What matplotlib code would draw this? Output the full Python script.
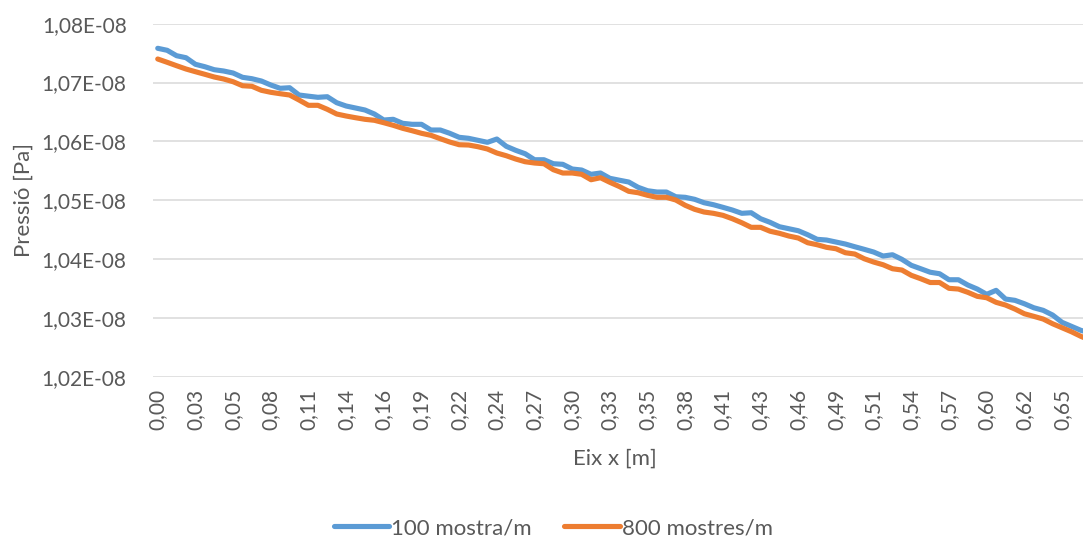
import numpy as np
import matplotlib
matplotlib.use("Agg")
import matplotlib.pyplot as plt
from matplotlib.ticker import FuncFormatter

plt.rcParams['font.family'] = ['Lato', 'DejaVu Sans']

# pressure along x, in units of 1e-8 Pa
pres_100 = [
    1.07582, 1.07548, 1.07456, 1.07422, 1.07310, 1.07269, 1.07218, 1.07196, 1.07162, 1.07089,
    1.07065, 1.07026, 1.06958, 1.06902, 1.06912, 1.06788, 1.06768, 1.06749, 1.06759, 1.06657,
    1.06601, 1.06567, 1.06533, 1.06465, 1.06363, 1.06375, 1.06307, 1.06290, 1.06290, 1.06193,
    1.06193, 1.06137, 1.06069, 1.06052, 1.06018, 1.05984, 1.06040, 1.05916, 1.05848, 1.05790,
    1.05688, 1.05688, 1.05620, 1.05610, 1.05530, 1.05513, 1.05440, 1.05462, 1.05372, 1.05340,
    1.05309, 1.05219, 1.05161, 1.05139, 1.05139, 1.05059, 1.05049, 1.05015, 1.04957, 1.04923,
    1.04879, 1.04833, 1.04777, 1.04787, 1.04685, 1.04624, 1.04549, 1.04515, 1.04481, 1.04413,
    1.04335, 1.04323, 1.04289, 1.04255, 1.04209, 1.04165, 1.04119, 1.04051, 1.04073, 1.03995,
    1.03893, 1.03835, 1.03776, 1.03750, 1.03648, 1.03648, 1.03558, 1.03490, 1.03400, 1.03468,
    1.03320, 1.03298, 1.03240, 1.03172, 1.03128, 1.03048, 1.02924, 1.02856, 1.02788, 1.02742,
]
pres_800 = [
    1.07400, 1.07344, 1.07286, 1.07230, 1.07184, 1.07140, 1.07094, 1.07060, 1.07014, 1.06946,
    1.06936, 1.06868, 1.06834, 1.06810, 1.06788, 1.06703, 1.06613, 1.06613, 1.06545, 1.06465,
    1.06431, 1.06402, 1.06375, 1.06358, 1.06317, 1.06273, 1.06222, 1.06181, 1.06137, 1.06103,
    1.06045, 1.05989, 1.05943, 1.05938, 1.05909, 1.05870, 1.05802, 1.05756, 1.05700, 1.05654,
    1.05632, 1.05620, 1.05518, 1.05462, 1.05462, 1.05440, 1.05348, 1.05382, 1.05304, 1.05233,
    1.05151, 1.05127, 1.05083, 1.05049, 1.05049, 1.05003, 1.04913, 1.04845, 1.04799, 1.04777,
    1.04743, 1.04685, 1.04617, 1.04539, 1.04539, 1.04473, 1.04437, 1.04391, 1.04357, 1.04277,
    1.04243, 1.04199, 1.04175, 1.04107, 1.04085, 1.04005, 1.03949, 1.03903, 1.03835, 1.03813,
    1.03723, 1.03665, 1.03601, 1.03601, 1.03502, 1.03490, 1.03434, 1.03366, 1.03342, 1.03264,
    1.03218, 1.03150, 1.03070, 1.03026, 1.02980, 1.02900, 1.02832, 1.02764, 1.02686, 1.02620,
]
x_labels = ["0,00", "0,03", "0,05", "0,08", "0,11", "0,14", "0,16", "0,19", "0,22",
            "0,24", "0,27", "0,30", "0,33", "0,35", "0,38", "0,41", "0,43", "0,46",
            "0,49", "0,51", "0,54", "0,57", "0,60", "0,62", "0,65"]
label_step = 4
series_names = ["100 mostra/m", "800 mostres/m"]

blue = "#5B9BD5"
orange = "#ED7D31"
grey_txt = "#595959"

fig = plt.figure(figsize=(10.83, 5.40), dpi=100)
ax = fig.add_axes([0.1413, 0.3024, 0.8698, 0.6537])

y100 = np.array(pres_100) * 1e-8
y800 = np.array(pres_800) * 1e-8
idx = np.arange(len(y100))

for y, c, name in [(y100, blue, series_names[0]), (y800, orange, series_names[1])]:
    ax.plot(idx, y, color=c, lw=3.7, label=name,
            solid_joinstyle='round', solid_capstyle='round')

ax.set_xlim(-0.5, len(idx) - 0.5)
ax.set_ylim(1.02e-8, 1.08e-8)
ax.set_yticks(np.arange(1.02, 1.0801, 0.01) * 1e-8)
ax.yaxis.set_major_formatter(FuncFormatter(lambda v, p: f"{v:.2E}".replace(".", ",")))
ax.set_xticks(np.arange(0, label_step * len(x_labels), label_step))
ax.set_xticklabels(x_labels, rotation=90)

ax.grid(axis='y', color="#D9D9D9", lw=1.1)
ax.set_axisbelow(True)
for s in ax.spines.values():
    s.set_visible(False)
ax.tick_params(length=0, labelsize=15, colors=grey_txt)
ax.tick_params(axis='x', pad=9)
ax.tick_params(axis='y', pad=19)

ax.set_ylabel("Pressió [Pa]", fontsize=16, color=grey_txt)
ax.yaxis.set_label_coords(-0.127, 0.5)
ax.set_xlabel("Eix x [m]", fontsize=16, color=grey_txt)
ax.xaxis.set_label_coords((615 - 153) / (0.8698 * 1083), -0.205)

fig.legend(loc='center', bbox_to_anchor=(0.511, 0.022), ncol=2, frameon=False,
           fontsize=16, labelcolor=grey_txt, handlelength=2.5, handletextpad=0.1,
           columnspacing=1.45)

fig.savefig("out.png", dpi=100)
